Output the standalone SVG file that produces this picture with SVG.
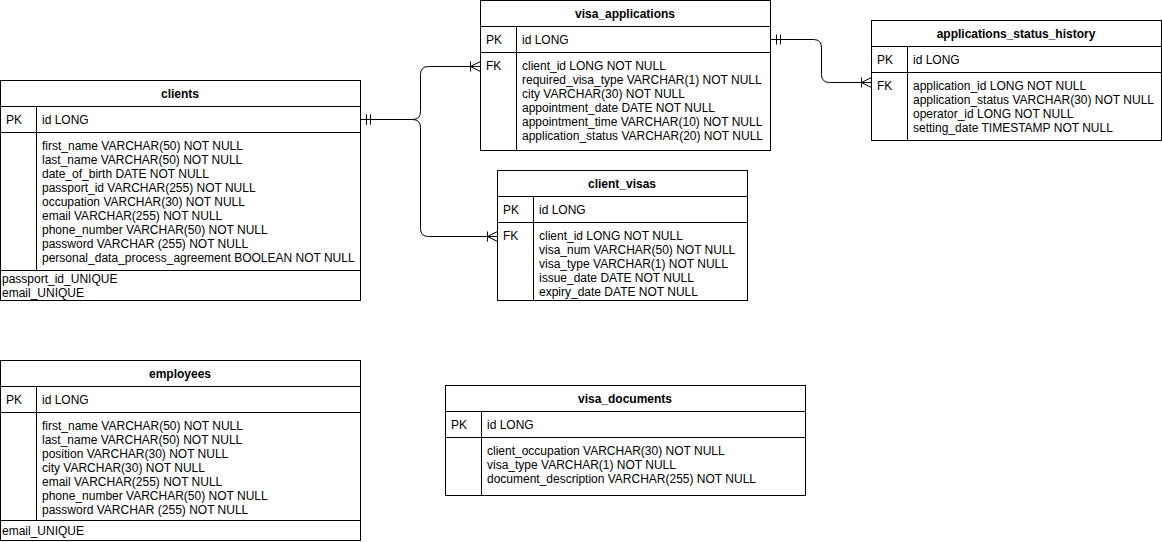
<svg xmlns="http://www.w3.org/2000/svg" width="1162" height="542" viewBox="0 0 1162 542">
<style>
  .box { fill: #ffffff; stroke: #000000; stroke-width: 1; }
  .ln { stroke: #000000; stroke-width: 1; fill: none; }
  text { font-family: "Liberation Sans", Helvetica, Arial, sans-serif; font-size: 12px; fill: #000000; }
  .title { font-weight: bold; text-anchor: middle; }
  .conn { stroke: #000000; stroke-width: 1; fill: none; }
</style>
<defs>
  <marker id="one" markerUnits="userSpaceOnUse" viewBox="-12 -7 14 14" refX="0" refY="0" markerWidth="14" markerHeight="14" orient="auto-start-reverse" overflow="visible">
    <path d="M-6,-5 L-6,5 M-10,-5 L-10,5" stroke="#000" stroke-width="1" fill="none"/>
  </marker>
  <marker id="many" markerUnits="userSpaceOnUse" viewBox="-12 -7 14 14" refX="0" refY="0" markerWidth="14" markerHeight="14" orient="auto-start-reverse" overflow="visible">
    <path d="M-10,-5 L-10,5 M0,-5 L-10,0 L0,5" stroke="#000" stroke-width="1" fill="none"/>
  </marker>
</defs>
<rect x="0" y="0" width="1162" height="542" fill="#ffffff"/>

<g id="connectors">
  <path class="conn" d="M360.5,119.5 L412.5,119.5 Q420.5,119.5 420.5,111.5 L420.5,74.5 Q420.5,66.5 428.5,66.5 L480.5,66.5" marker-start="url(#one)" marker-end="url(#many)"/>
  <path class="conn" d="M360.5,119.5 L412.5,119.5 Q420.5,119.5 420.5,127.5 L420.5,228.5 Q420.5,236.5 428.5,236.5 L497.5,236.5" marker-start="url(#one)" marker-end="url(#many)"/>
  <path class="conn" d="M770.5,39.5 L813.5,39.5 Q821.5,39.5 821.5,47.5 L821.5,74.5 Q821.5,82.5 829.5,82.5 L871.5,82.5" marker-start="url(#one)" marker-end="url(#many)"/>
</g>

<g id="clients">
  <rect class="box" x="0.5" y="80.5" width="360" height="220"/>
  <path class="ln" d="M0.5,106.5 H360.5 M0.5,132.5 H360.5 M0.5,270.5 H360.5 M36.5,106.5 V270.5"/>
  <text class="title" x="180" y="98">clients</text>
  <text x="6" y="124">PK</text>
  <text x="42" y="124">id LONG</text>
  <text x="42" y="150">first_name VARCHAR(50) NOT NULL</text>
  <text x="42" y="164">last_name VARCHAR(50) NOT NULL</text>
  <text x="42" y="178">date_of_birth DATE NOT NULL</text>
  <text x="42" y="192">passport_id VARCHAR(255) NOT NULL</text>
  <text x="42" y="206">occupation VARCHAR(30) NOT NULL</text>
  <text x="42" y="220">email VARCHAR(255) NOT NULL</text>
  <text x="42" y="234">phone_number VARCHAR(50) NOT NULL</text>
  <text x="42" y="248">password VARCHAR (255) NOT NULL</text>
  <text x="42" y="262">personal_data_process_agreement BOOLEAN NOT NULL</text>
  <text x="2" y="283">passport_id_UNIQUE</text>
  <text x="2" y="297">email_UNIQUE</text>
</g>

<g id="visa_applications">
  <rect class="box" x="480.5" y="0.5" width="290" height="150"/>
  <path class="ln" d="M480.5,26.5 H770.5 M480.5,52.5 H770.5 M516.5,26.5 V150.5"/>
  <text class="title" x="625" y="18">visa_applications</text>
  <text x="486" y="44">PK</text>
  <text x="522" y="44">id LONG</text>
  <text x="486" y="70">FK</text>
  <text x="522" y="70">client_id LONG NOT NULL</text>
  <text x="522" y="84">required_visa_type VARCHAR(1) NOT NULL</text>
  <text x="522" y="98">city VARCHAR(30) NOT NULL</text>
  <text x="522" y="112">appointment_date DATE NOT NULL</text>
  <text x="522" y="126">appointment_time VARCHAR(10) NOT NULL</text>
  <text x="522" y="140">application_status VARCHAR(20) NOT NULL</text>
</g>

<g id="applications_status_history">
  <rect class="box" x="871.5" y="20.5" width="290" height="120"/>
  <path class="ln" d="M871.5,46.5 H1161.5 M871.5,72.5 H1161.5 M907.5,46.5 V140.5"/>
  <text class="title" x="1016" y="38">applications_status_history</text>
  <text x="877" y="64">PK</text>
  <text x="913" y="64">id LONG</text>
  <text x="877" y="90">FK</text>
  <text x="913" y="90">application_id LONG NOT NULL</text>
  <text x="913" y="104">application_status VARCHAR(30) NOT NULL</text>
  <text x="913" y="118">operator_id LONG NOT NULL</text>
  <text x="913" y="132">setting_date TIMESTAMP NOT NULL</text>
</g>

<g id="client_visas">
  <rect class="box" x="497.5" y="170.5" width="250" height="130"/>
  <path class="ln" d="M497.5,196.5 H747.5 M497.5,222.5 H747.5 M533.5,196.5 V300.5"/>
  <text class="title" x="622" y="188">client_visas</text>
  <text x="503" y="214">PK</text>
  <text x="539" y="214">id LONG</text>
  <text x="503" y="240">FK</text>
  <text x="539" y="240">client_id LONG NOT NULL</text>
  <text x="539" y="254">visa_num VARCHAR(50) NOT NULL</text>
  <text x="539" y="268">visa_type VARCHAR(1) NOT NULL</text>
  <text x="539" y="282">issue_date DATE NOT NULL</text>
  <text x="539" y="296">expiry_date DATE NOT NULL</text>
</g>

<g id="employees">
  <rect class="box" x="0.5" y="360.5" width="360" height="180"/>
  <path class="ln" d="M0.5,386.5 H360.5 M0.5,412.5 H360.5 M0.5,520.5 H360.5 M36.5,386.5 V520.5"/>
  <text class="title" x="180" y="378">employees</text>
  <text x="6" y="404">PK</text>
  <text x="42" y="404">id LONG</text>
  <text x="42" y="430">first_name VARCHAR(50) NOT NULL</text>
  <text x="42" y="444">last_name VARCHAR(50) NOT NULL</text>
  <text x="42" y="458">position VARCHAR(30) NOT NULL</text>
  <text x="42" y="472">city VARCHAR(30) NOT NULL</text>
  <text x="42" y="486">email VARCHAR(255) NOT NULL</text>
  <text x="42" y="500">phone_number VARCHAR(50) NOT NULL</text>
  <text x="42" y="514">password VARCHAR (255) NOT NULL</text>
  <text x="2" y="535">email_UNIQUE</text>
</g>

<g id="visa_documents">
  <rect class="box" x="445.5" y="385.5" width="360" height="110"/>
  <path class="ln" d="M445.5,411.5 H805.5 M445.5,437.5 H805.5 M481.5,411.5 V495.5"/>
  <text class="title" x="625" y="403">visa_documents</text>
  <text x="451" y="429">PK</text>
  <text x="487" y="429">id LONG</text>
  <text x="487" y="455">client_occupation VARCHAR(30) NOT NULL</text>
  <text x="487" y="469">visa_type VARCHAR(1) NOT NULL</text>
  <text x="487" y="483">document_description VARCHAR(255) NOT NULL</text>
</g>
</svg>
